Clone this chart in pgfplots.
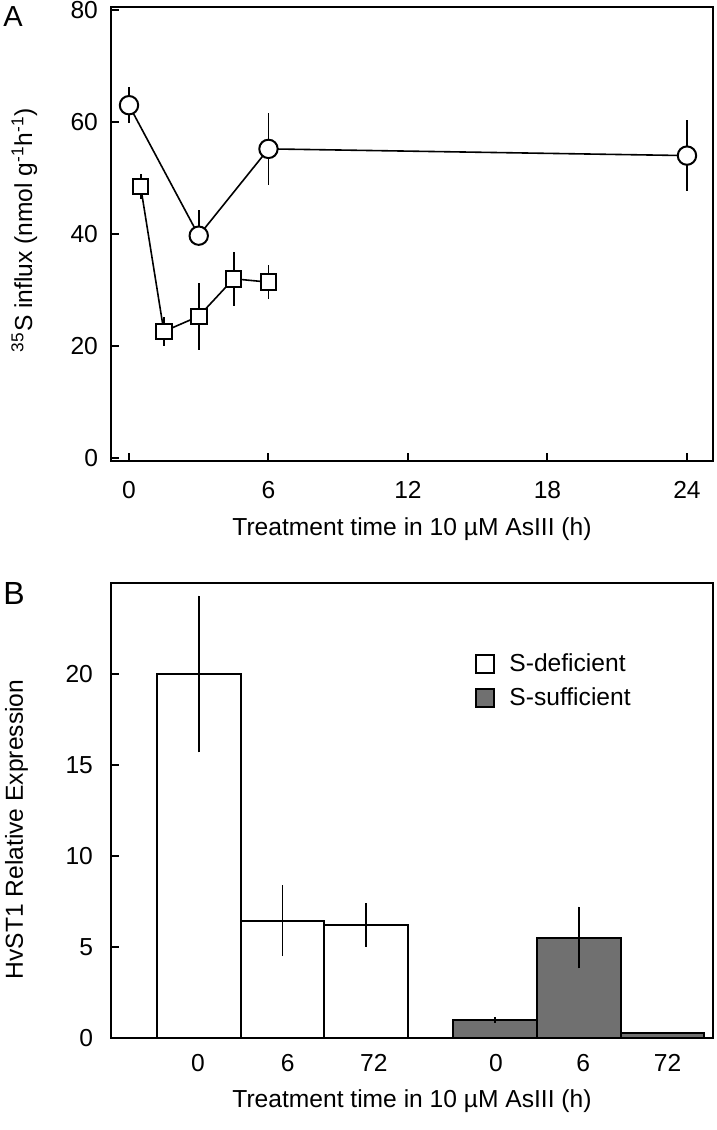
\documentclass[border=0pt]{standalone}
\usepackage{fontspec}
\setmainfont{Liberation Sans}
\usepackage{pgfplots}
\usepackage{pgfplotstable}
\pgfplotsset{compat=1.18}
\definecolor{sgray}{RGB}{112,112,112}

\pgfplotstableread{
x y ep em
0 63.0 3.2 3.2
3 39.7 4.5 1.0
6 55.2 6.4 6.4
24 54.0 6.3 6.3
}\circdata
\pgfplotstableread{
x y ep em
0.5 48.5 2.2 2.2
1.5 22.6 2.65 2.65
3 25.3 6.0 6.0
4.5 32.0 4.85 4.85
6 31.4 3.05 3.05
}\sqdata
\pgfplotstableread{
x y e
1 20.0 4.3
2 6.45 1.95
3 6.2 1.2
}\defdata
\pgfplotstableread{
x y e
4.54 0.98 0.15
5.54 5.52 1.7
6.54 0.27 0
}\sufdata

\begin{document}
\begin{tikzpicture}[font=\fontsize{12.3}{14.8}\selectfont]
\useasboundingbox (0,0) rectangle (358.5pt,565pt);
\pgfplotsset{
  common/.style={
    scale only axis,
    width=301pt,
    anchor=south west,
    /pgf/number format/assume math mode=true,
    axis line style={line width=1pt},
    tick style={line width=1pt, black},
    tick align=inside,
    major tick length=4pt,
    ytick pos=left,
  }
}
% Panel A
\begin{axis}[common,
  at={(55.5pt,334.5pt)},
  height=227pt,
  xmin=-0.774, xmax=25.12, ymin=-0.54, ymax=80.54,
  xtick={0,6,12,18,24}, ytick={0,20,40,60,80},
  yticklabels={0,20,40,60,\raisebox{-1.5pt}{80}},
  xtick pos=bottom,
  yticklabel style={xshift=-3pt},
  xticklabel style={yshift=-6.5pt},
  xlabel={Treatment time in 10 µM AsIII (h)},
  xlabel style={at={(axis description cs:0.5,0)}, anchor=base, yshift=-37.5pt},
  ylabel={\textsuperscript{35}S influx (nmol g\textsuperscript{-1}h\textsuperscript{-1})},
  ylabel style={at={(axis description cs:-0.1312,0.5088)}, anchor=base},
]
% error bars first, so that the marks cover them
\addplot[draw=none, mark=none, forget plot,
  error bars/.cd, y dir=both, y explicit, error mark=none,
  error bar style={line width=0.9pt, black, solid}]
  table[x=x, y=y, y error plus=ep, y error minus=em] {\circdata};
\addplot[draw=none, mark=none, forget plot,
  error bars/.cd, y dir=both, y explicit, error mark=none,
  error bar style={line width=0.9pt, black, solid}]
  table[x=x, y=y, y error plus=ep, y error minus=em] {\sqdata};
\addplot[black, line width=0.8pt, mark=*, mark size=4.6pt,
  mark options={fill=white, draw=black, line width=1pt, solid}]
  table[x=x, y=y] {\circdata};
\addplot[black, line width=0.8pt, mark=square*, mark size=3.9pt,
  mark options={fill=white, draw=black, line width=1pt, solid}]
  table[x=x, y=y] {\sqdata};
\end{axis}
\node[anchor=base west, inner sep=0pt, font=\fontsize{14.5}{17}\selectfont] at (1.5pt,551.5pt) {A};

% Panel B
\begin{axis}[common,
  at={(55.5pt,46pt)},
  height=227.5pt,
  xmin=-0.05, xmax=7.142, ymin=0, ymax=25,
  xtick={0.99,2.06,3.09,4.55,5.59,6.60},
  xticklabels={0,6,72,0,6,72},
  ytick={0,5,10,15,20},
  x tick style={draw=none},
  yticklabel style={xshift=-5.5pt},
  xticklabel style={yshift=-4.5pt},
  xlabel={Treatment time in 10 µM AsIII (h)},
  xlabel style={at={(axis description cs:0.5,0)}, anchor=base, yshift=-34.5pt},
  ylabel={HvST1 Relative Expression},
  ylabel style={at={(axis description cs:-0.1462,0.4582)}, anchor=base},
  legend style={at={(axis description cs:0.6047,0.846)}, anchor=north west,
    draw=none, fill=none, inner sep=0pt, row sep=6.5pt,
    nodes={inner sep=0pt, text height=9pt, text depth=0pt}},
  legend cell align=left,
  legend image code/.code={\draw[#1, line width=1pt] (0pt,-5.5pt) rectangle (9pt,3.5pt);},
]
\addplot[ybar, bar width=1, bar shift=0pt, fill=white, draw=black, line width=1pt,
  error bars/.cd, y dir=both, y explicit, error mark=none,
  error bar style={line width=0.9pt, black}]
  table[x=x, y=y, y error=e] {\defdata};
\addlegendentry{\hspace{7pt}S-deficient}
\addplot[ybar, bar width=1, bar shift=0pt, fill=sgray, draw=black, line width=1pt,
  error bars/.cd, y dir=both, y explicit, error mark=none,
  error bar style={line width=0.9pt, black}]
  table[x=x, y=y, y error=e] {\sufdata};
\addlegendentry{\hspace{7pt}S-sufficient}
\end{axis}
\node[anchor=base west, inner sep=0pt, font=\fontsize{16}{19}\selectfont] at (1.5pt,262.5pt) {B};
\end{tikzpicture}
\end{document}
